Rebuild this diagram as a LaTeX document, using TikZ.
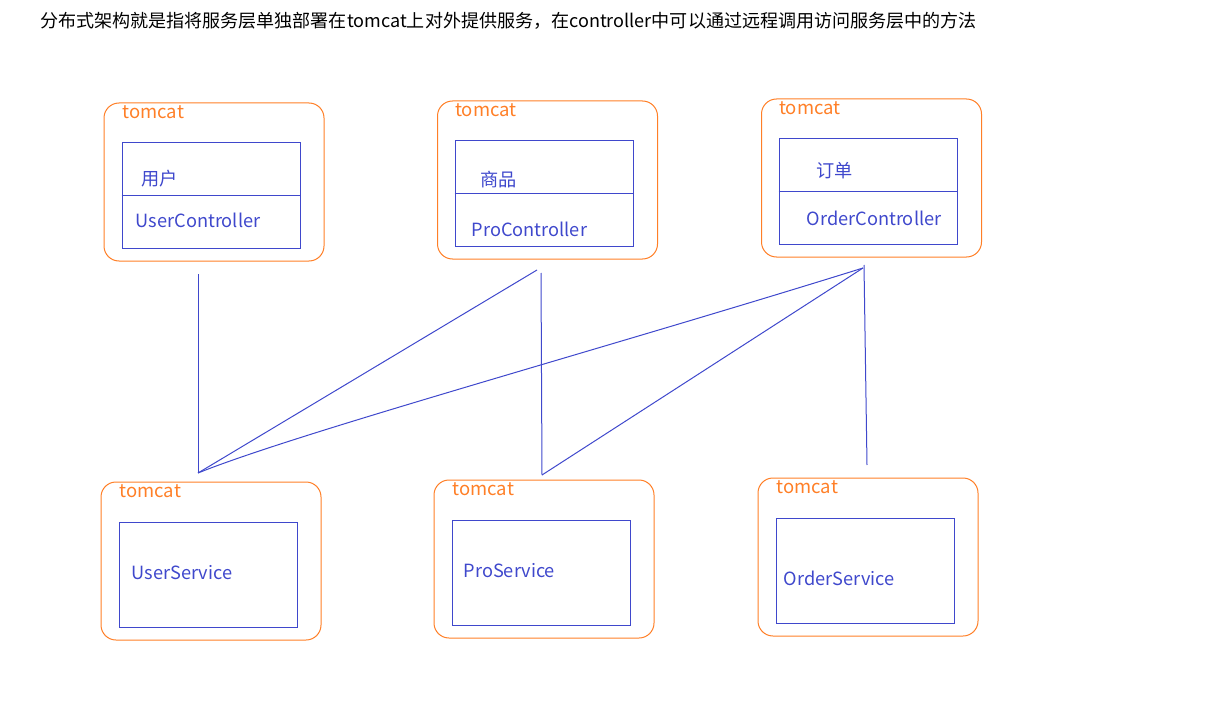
\documentclass[tikz,border=0pt]{standalone}
\usepackage{fontspec}
\setmainfont{Noto Sans CJK SC}
\usepackage{tikz}
\usepackage{xcolor}
\usetikzlibrary{positioning}
\definecolor{tcorange}{HTML}{FF7F27}
\definecolor{svblue}{HTML}{3F48CC}
\tikzset{tomcatbox/.style={draw=tcorange, rounded corners=15pt, line width=1pt,
minimum width=220pt, minimum height=158pt, inner sep=0pt},
modbox/.style={draw=svblue, line width=1pt, minimum width=178pt, minimum height=105pt, inner sep=0pt},
tclabel/.style={text=tcorange, anchor=west, inner sep=0pt, font=\fontsize{18.5}{22}\selectfont},
modlabel/.style={text=svblue, anchor=west, inner sep=0pt, font=\fontsize{18.2}{22}\selectfont}}

\begin{document}
\begin{tikzpicture}[x=1pt, y=-1pt, rpc/.style={draw=svblue, line width=1pt}]
	\useasboundingbox (0,0) rectangle (1224,706);
	\node[anchor=west, inner sep=0pt, font=\fontsize{18.05}{22}\selectfont] (title) at (40,21)
		{分布式架构就是指将服务层单独部署在tomcat上对外提供服务，在controller中可以通过远程调用访问服务层中的方法};
	% controller layer
	\node[tomcatbox] (tuc) at (214,182) {};
	\node[tomcatbox] (tpc) at (547.5,180) {};
	\node[tomcatbox] (toc) at (871.5,178) {};
	\node[modbox] (uc) at (211,195.5) {};
	\node[modbox] (pc) at (544,193.5) {};
	\node[modbox] (oc) at (868,191.5) {};
	\foreach \m in {uc,pc,oc}
		\draw[svblue, line width=1pt] (\m.west) -- (\m.east);
	\node[tclabel] (tuc-l) at ([xshift=19pt, yshift=-9.5pt]tuc.north west) {tomcat};
	\node[tclabel] (tpc-l) at ([xshift=18pt, yshift=-9.5pt]tpc.north west) {tomcat};
	\node[tclabel] (toc-l) at ([xshift=18pt, yshift=-9.5pt]toc.north west) {tomcat};
	\node[modlabel] (uc-cn) at ([xshift=20pt, yshift=17pt]uc.west) {用户};
	\node[modlabel] (uc-en) at ([xshift=14pt, yshift=-25pt]uc.west) {UserController};
	\node[modlabel] (pc-cn) at ([xshift=26pt, yshift=14pt]pc.west) {商品};
	\node[modlabel] (pc-en) at ([xshift=17pt, yshift=-36pt]pc.west) {ProController};
	\node[modlabel] (oc-cn) at ([xshift=38pt, yshift=20.5pt]oc.west) {订单};
	\node[modlabel] (oc-en) at ([xshift=28pt, yshift=-27pt]oc.west) {OrderController};
	% service layer
	\node[tomcatbox] (tus) at (211,561) {};
	\node[tomcatbox] (tps) at (544,559) {};
	\node[tomcatbox] (tos) at (868,557) {};
	\node[modbox] (us) at (208,574.5) {};
	\node[modbox] (ps) at (541,572.5) {};
	\node[modbox] (os) at (865,570.5) {};
	\node[tclabel] (tus-l) at ([xshift=19pt, yshift=-9.5pt]tus.north west) {tomcat};
	\node[tclabel] (tps-l) at ([xshift=19pt, yshift=-9.5pt]tps.north west) {tomcat};
	\node[tclabel] (tos-l) at ([xshift=19pt, yshift=-9.5pt]tos.north west) {tomcat};
	\node[modlabel] (us-en) at ([xshift=13pt, yshift=1.5pt]us.west) {UserService};
	\node[modlabel] (ps-en) at ([xshift=12pt, yshift=1.5pt]ps.west) {ProService};
	\node[modlabel] (os-en) at ([xshift=8pt, yshift=-7.5pt]os.west) {OrderService};
	% call ends
	\coordinate (uc-out) at (198,274);
	\coordinate (pc-out) at (537,270);
	\coordinate (pc-down) at (541,273);
	\coordinate (oc-out) at (863,268);
	\coordinate (oc-down) at (864,265);
	\coordinate (us-in) at (198,473);
	\coordinate (ps-in) at (542,475);
	\coordinate (os-in) at (867,465);
	\draw[rpc] (uc-out) -- (us-in);
	\draw[rpc] (pc-out) -- (us-in);
	\draw[rpc] (us-in) .. controls (300,432) and (600,350) .. (oc-out);
	\draw[rpc] (pc-down) -- (ps-in);
	\draw[rpc] (oc-out) -- (ps-in);
	\draw[rpc] (oc-down) -- (os-in);
\end{tikzpicture}
\end{document}
